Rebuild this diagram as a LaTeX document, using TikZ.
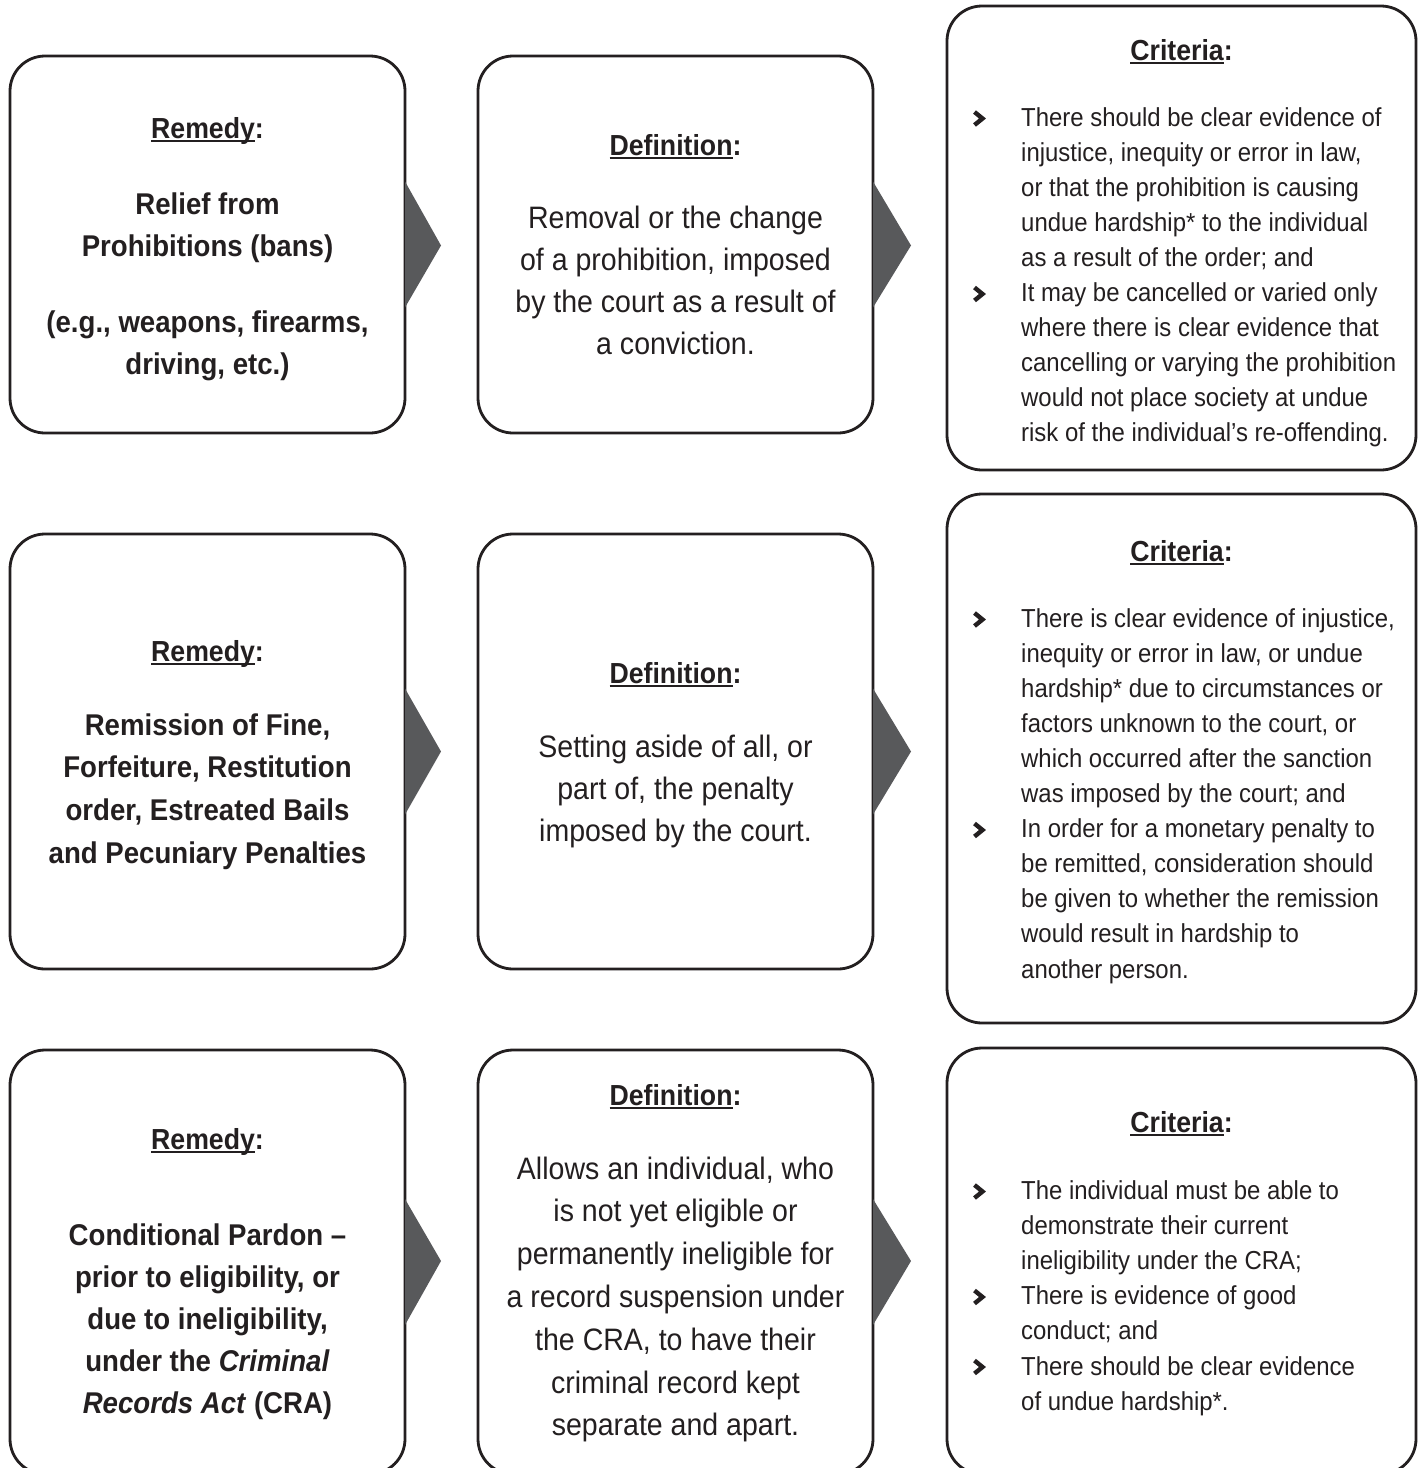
\documentclass[tikz,border=0pt]{standalone}
\usepackage{fontspec}
\setmainfont{Liberation Sans}[FakeStretch=0.92]
\usetikzlibrary{calc}
\definecolor{ink}{HTML}{231F20}
\definecolor{arrowgray}{HTML}{58595B}
\newcommand\hul[1]{\setbox0\hbox{#1}\rlap{\rule[-3.5pt]{\wd0}{1.6pt}}\box0}
\newcommand\putlines[6]{\foreach \t [count=\i] in {#6}{\node[#5] (#1\i) at (#2,{#3+(\i-1)*(#4)}) {\t};}}
\newcommand\chev[2]{\draw[chevstyle] ({#1-4.5},{#2-6.5}) -- ({#1+3.5},{#2}) -- ({#1-4.5},{#2+6.5});}
\newcommand\tri[3]{\fill[arrowgray] ($(#1.east)+(0,-63)$) -- ($(#1.east)+(#2,#3)$) -- ($(#1.east)+(0,63)$) -- cycle;}
\tikzset{
  box/.style={draw=ink, line width=2.8pt, rounded corners=35pt, minimum width=395pt, inner sep=0pt, outer sep=0pt, fill=white},
  head/.style={font=\bfseries\fontsize{29}{35}\selectfont, text=ink, anchor=base, inner sep=0pt},
  rem/.style={font=\bfseries\fontsize{30}{36}\selectfont, text=ink, anchor=base, inner sep=0pt},
  defn/.style={font=\fontsize{31}{37}\selectfont, text=ink, anchor=base, inner sep=0pt},
  crit/.style={font=\fontsize{26}{31}\selectfont, text=ink, anchor=base west, inner sep=0pt},
  chevstyle/.style={draw=ink, line width=4.4pt, line join=miter}
}
\begin{document}
\begin{tikzpicture}[x=1pt,y=-1pt]
\useasboundingbox (0,0) rectangle (1418,1468);
\clip (0,0) rectangle (1418,1468);
\fill[white] (0,0) rectangle (1418,1468);
% ---------- boxes ----------
\node[box, minimum height=377pt] (r1rem) at (207.5,244.5) {};
\node[box, minimum height=377pt] (r1def) at (675.5,244.5) {};
\node[box, minimum width=469pt, minimum height=464pt] (r1crit) at (1181.5,238) {};
\node[box, minimum height=435pt] (r2rem) at (207.5,751.5) {};
\node[box, minimum height=435pt] (r2def) at (675.5,751.5) {};
\node[box, minimum width=469pt, minimum height=529pt] (r2crit) at (1181.5,758.5) {};
\node[box, minimum height=424pt] (r3rem) at (207.5,1262) {};
\node[box, minimum height=424pt] (r3def) at (675.5,1262) {};
\node[box, minimum width=469pt, minimum height=426pt] (r3crit) at (1181.5,1261) {};
% ---------- arrows ----------
\tri{r1rem}{36}{1}
\tri{r1def}{38}{1}
\tri{r2rem}{36}{0}
\tri{r2def}{38}{0}
\tri{r3rem}{36}{-1}
\tri{r3def}{38}{-1}
% ---------- row 1 ----------
\node[head] (r1remh) at (207.5,138) {\hul{Remedy}:};
\putlines{r1remt}{207.5}{214}{42}{rem}{{Relief from},{Prohibitions (bans)}}
\putlines{r1remu}{207.5}{332}{42}{rem}{{(e.g., weapons, firearms,},{driving, etc.)}}
\node[head] (r1defh) at (675.5,155) {\hul{Definition}:};
\putlines{r1deft}{675.5}{228}{42.3}{defn}{{Removal or the change},{of a prohibition, imposed},{by the court as a result of},{a conviction.}}
\node[head] (r1crith) at (1181.5,60) {\hul{Criteria}:};
\putlines{r1critt}{1021}{126}{35.1}{crit}{{There should be clear evidence of},{injustice, inequity or error in law,},{or that the prohibition is causing},{undue hardship* to the individual},{as a result of the order; and},{It may be cancelled or varied only},{where there is clear evidence that},{cancelling or varying the prohibition},{would not place society at undue},{risk of the individual’s re-offending.}}
\chev{979}{118.5}
\chev{979}{294}
% ---------- row 2 ----------
\node[head] (r2remh) at (207.5,661) {\hul{Remedy}:};
\putlines{r2remt}{207.5}{735}{42.7}{rem}{{Remission of Fine,},{Forfeiture, Restitution},{order, Estreated Bails},{and Pecuniary Penalties}}
\node[head] (r2defh) at (675.5,683) {\hul{Definition}:};
\putlines{r2deft}{675.5}{757}{42}{defn}{{Setting aside of all, or},{part of, the penalty},{imposed by the court.}}
\node[head] (r2crith) at (1181.5,561) {\hul{Criteria}:};
\putlines{r2critt}{1021}{627}{35.1}{crit}{{There is clear evidence of injustice,},{inequity or error in law, or undue},{hardship* due to circumstances or},{factors unknown to the court, or},{which occurred after the sanction},{was imposed by the court; and},{In order for a monetary penalty to},{be remitted, consideration should},{be given to whether the remission},{would result in hardship to},{another person.}}
\chev{979}{619.5}
\chev{979}{830}
% ---------- row 3 ----------
\node[head] (r3remh) at (207.5,1149) {\hul{Remedy}:};
\putlines{r3remt}{207.5}{1245}{42}{rem}{{Conditional Pardon –},{prior to eligibility, or},{due to ineligibility,},{under the \textit{Criminal}},{\textit{Records Act} (CRA)}}
\node[head] (r3defh) at (675.5,1105) {\hul{Definition}:};
\putlines{r3deft}{675.5}{1179}{42.8}{defn}{{Allows an individual, who},{is not yet eligible or},{permanently ineligible for},{a record suspension under},{the CRA, to have their},{criminal record kept},{separate and apart.}}
\node[head] (r3crith) at (1181.5,1132) {\hul{Criteria}:};
\putlines{r3critt}{1021}{1199}{35.2}{crit}{{The individual must be able to},{demonstrate their current},{ineligibility under the CRA;},{There is evidence of good},{conduct; and},{There should be clear evidence},{of undue hardship*.}}
\chev{979}{1191.5}
\chev{979}{1297}
\chev{979}{1367}
\end{tikzpicture}
\end{document}
